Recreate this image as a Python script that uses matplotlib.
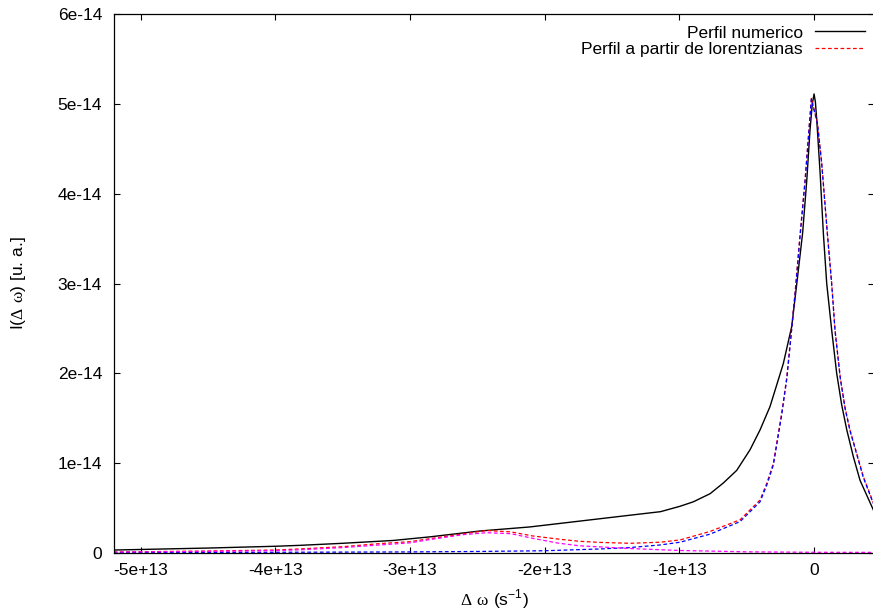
import matplotlib
matplotlib.use('Agg')
import matplotlib.pyplot as plt
import numpy as np

plt.rcParams['font.family'] = ['Liberation Sans', 'DejaVu Sans']
plt.rcParams['font.size'] = 12.5
plt.rcParams['mathtext.fontset'] = 'custom'
plt.rcParams['mathtext.rm'] = 'Liberation Serif'
plt.rcParams['mathtext.sf'] = 'Liberation Sans'

XS = 1e13   # frequency unit of the tables
YS = 1e-14  # intensity unit of the tables

# numerical profile
x_num = [-5.2, -4.5, -4.0, -3.82, -3.5, -3.12, -2.85, -2.48, -2.11, -1.74,
         -1.37, -1.14, -0.995, -0.896, -0.772, -0.673, -0.574, -0.475, -0.401,
         -0.327, -0.265, -0.228, -0.166, -0.128, -0.085, -0.054, -0.03, -0.013,
         0.0, 0.01, 0.02, 0.045, 0.069, 0.094, 0.131, 0.168, 0.205, 0.243,
         0.292, 0.341, 0.44]
y_num = [0.033, 0.055, 0.075, 0.085, 0.108, 0.14, 0.18, 0.245, 0.29, 0.355,
         0.42, 0.46, 0.52, 0.57, 0.66, 0.78, 0.92, 1.15, 1.37,
         1.63, 1.93, 2.11, 2.52, 3.0, 3.56, 4.15, 4.71, 5.0,
         5.11, 5.02, 4.82, 4.23, 3.56, 3.0, 2.48, 2.0, 1.65, 1.37,
         1.07, 0.81, 0.48]

# sum of the two lorentzians
x_sum = [-5.2, -4.5, -4.0, -3.82, -3.5, -3.22, -3.0, -2.85, -2.6, -2.43,
         -2.25, -2.09, -1.9, -1.74, -1.59, -1.366, -1.143, -0.995, -0.772,
         -0.549, -0.401, -0.35, -0.302, -0.24, -0.203, -0.173, -0.141, -0.103,
         -0.067, -0.02, 0.025, 0.057, 0.099, 0.131, 0.156, 0.195, 0.23, 0.267,
         0.366, 0.44]
y_sum = [0.011, 0.022, 0.033, 0.045, 0.07, 0.105, 0.126, 0.16, 0.215, 0.25,
         0.235, 0.19, 0.155, 0.13, 0.118, 0.108, 0.12, 0.145, 0.24,
         0.37, 0.59, 0.78, 1.0, 1.56, 1.95, 2.4, 2.9, 3.56,
         4.15, 5.06, 4.79, 4.34, 3.56, 3.0, 2.48, 1.95, 1.62, 1.37,
         0.85, 0.56]

# main lorentzian (centred near 0)
x_l1 = [-5.2, -4.0, -3.0, -2.5, -2.0, -1.59, -1.37, -1.14, -0.995, -0.772,
        -0.549, -0.401, -0.35, -0.302, -0.24, -0.203, -0.173, -0.141, -0.103,
        -0.067, -0.02, 0.025, 0.057, 0.099, 0.131, 0.156, 0.195, 0.23, 0.267,
        0.366, 0.44]
y_l1 = [0.005, 0.008, 0.012, 0.017, 0.025, 0.045, 0.06, 0.09, 0.12, 0.21,
        0.35, 0.57, 0.76, 0.98, 1.54, 1.93, 2.38, 2.88, 3.54,
        4.13, 5.05, 4.78, 4.33, 3.55, 2.99, 2.47, 1.94, 1.61, 1.36,
        0.84, 0.55]

# secondary lorentzian
x_l2 = [-5.2, -4.5, -4.0, -3.82, -3.5, -3.22, -3.0, -2.85, -2.6, -2.43,
        -2.25, -2.09, -1.9, -1.74, -1.59, -1.37, -1.0, -0.5, 0.0, 0.44]
y_l2 = [0.01, 0.018, 0.027, 0.035, 0.06, 0.09, 0.113, 0.15, 0.205, 0.226,
        0.215, 0.164, 0.11, 0.08, 0.068, 0.05, 0.028, 0.013, 0.008, 0.007]

xticks = [-5e13, -4e13, -3e13, -2e13, -1e13, 0]
xtick_labels = ['-5e+13', '-4e+13', '-3e+13', '-2e+13', '-1e+13', '0']
yticks = [0, 1e-14, 2e-14, 3e-14, 4e-14, 5e-14, 6e-14]
ytick_labels = ['0', '1e-14', '2e-14', '3e-14', '4e-14', '5e-14', '6e-14']

fig = plt.figure(figsize=(8.73, 6.13), dpi=100)
ax = fig.add_axes([114 / 873, 60 / 613, 760 / 873, 539 / 613])

dash = (3, 2)
ax.plot(np.array(x_num) * XS, np.array(y_num) * YS, color='black', lw=1.0,
        label='Perfil numerico')
ax.plot(np.array(x_sum) * XS, np.array(y_sum) * YS, color='red', lw=0.9,
        dashes=dash, label='Perfil a partir de lorentzianas')
ax.plot(np.array(x_l1) * XS, np.array(y_l1) * YS, color='blue', lw=0.9,
        dashes=dash)
ax.plot(np.array(x_l2) * XS, np.array(y_l2) * YS, color='magenta', lw=0.9,
        dashes=dash)

ax.set_xlim(-5.197e13, 0.445e13)
ax.set_ylim(0, 6e-14)
ax.set_xticks(xticks)
ax.set_xticklabels(xtick_labels)
ax.set_yticks(yticks)
ax.set_yticklabels(ytick_labels)
ax.tick_params(direction='in', length=4.5, width=0.8, top=True, right=True)
ax.tick_params(axis='y', pad=8.5)
ax.tick_params(axis='x', pad=7)
for s in ax.spines.values():
    s.set_linewidth(0.9)

ax.set_xlabel(r'$\mathrm{\Delta\ \omega}$ (s$^{\mathsf{-1}}$)')
ax.xaxis.set_label_coords(0.5, -0.064)
ax.set_ylabel(r'I($\mathrm{\Delta\ \omega}$) [u. a.]')
ax.yaxis.set_label_coords(-0.113, 0.5)

ax.legend(loc='upper right', bbox_to_anchor=(1.0, 0.995), frameon=False,
          markerfirst=False, handlelength=2.9, handletextpad=0.7,
          labelspacing=0.1, borderaxespad=0.3, borderpad=0.2)

fig.savefig('out.png', dpi=100)
